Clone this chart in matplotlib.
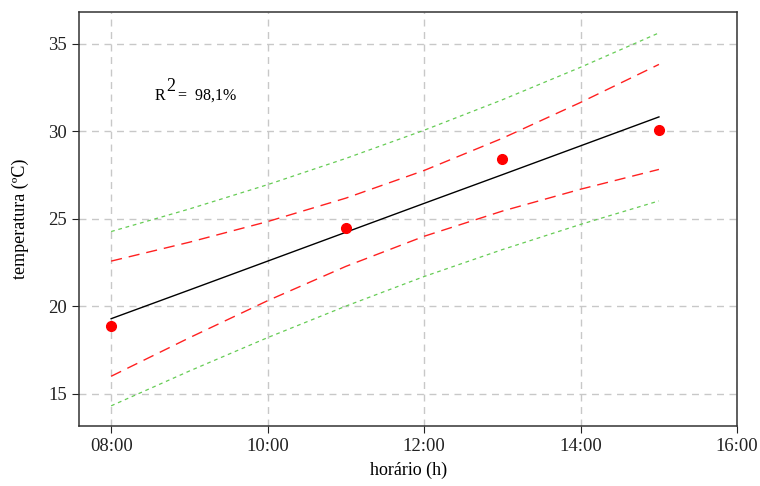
import numpy as np
import matplotlib.pyplot as plt

plt.rcParams['font.family'] = ['Liberation Serif', 'DejaVu Serif']

# Temperaturas medidas
hora_obs = [8, 11, 13, 15]
temp_obs = [18.9, 24.5, 28.4, 30.1]

# Reta ajustada e faixas (intervalo de confiança e de predição)
hora = [8, 9, 10, 11, 12, 13, 14, 15]
ajuste = [19.30, 20.94, 22.59, 24.24, 25.89, 27.53, 29.18, 30.83]
ic_sup = [22.59, 23.67, 24.85, 26.19, 27.77, 29.61, 31.66, 33.83]
ic_inf = [16.01, 18.21, 20.33, 22.29, 24.01, 25.45, 26.70, 27.83]
ip_sup = [24.28, 25.57, 26.96, 28.46, 30.07, 31.81, 33.67, 35.63]
ip_inf = [14.32, 16.31, 18.22, 20.02, 21.71, 23.25, 24.69, 26.03]

x_ticks = [8, 10, 12, 14, 16]
x_labels = ['08:00', '10:00', '12:00', '14:00', '16:00']
y_ticks = [15, 20, 25, 30, 35]

fig = plt.figure(figsize=(7.6, 4.86), dpi=100)
ax = fig.add_axes([0.104, 0.1235, 0.866, 0.852])

ax.grid(True, color='#c8c8c8', linestyle=(0, (5, 4)), linewidth=1)
ax.set_axisbelow(True)

ax.plot(hora, ip_sup, color='#66cc55', linestyle=(0, (3, 3)), linewidth=0.9)
ax.plot(hora, ip_inf, color='#66cc55', linestyle=(0, (3, 3)), linewidth=0.9)
ax.plot(hora, ic_sup, color='#ff2020', linestyle=(0, (8, 5)), linewidth=1)
ax.plot(hora, ic_inf, color='#ff2020', linestyle=(0, (8, 5)), linewidth=1)
ax.plot(hora, ajuste, color='black', linewidth=1)
ax.plot(hora_obs, temp_obs, 'o', color='#ff0000', markersize=7, zorder=5)

# R² no canto superior
ax.text(8.55, 31.8, 'R', fontsize=11.5)
ax.text(8.70, 32.3, '2', fontsize=13)
ax.text(8.86, 31.8, '=  98,1%', fontsize=11.5)

ax.set_xlim(7.59, 16)
ax.set_ylim(13.17, 36.83)
ax.set_xticks(x_ticks)
ax.set_xticklabels(x_labels)
ax.set_yticks(y_ticks)
ax.tick_params(direction='out', length=5, labelsize=13.5, colors='#222222')

for s in ax.spines.values():
    s.set_color('#333333')
    s.set_linewidth(1.1)

ax.set_xlabel('horário (h)', fontsize=13, labelpad=5)
ax.set_ylabel('temperatura (ºC)', fontsize=13, labelpad=14)

fig.savefig('out.png', dpi=100)
